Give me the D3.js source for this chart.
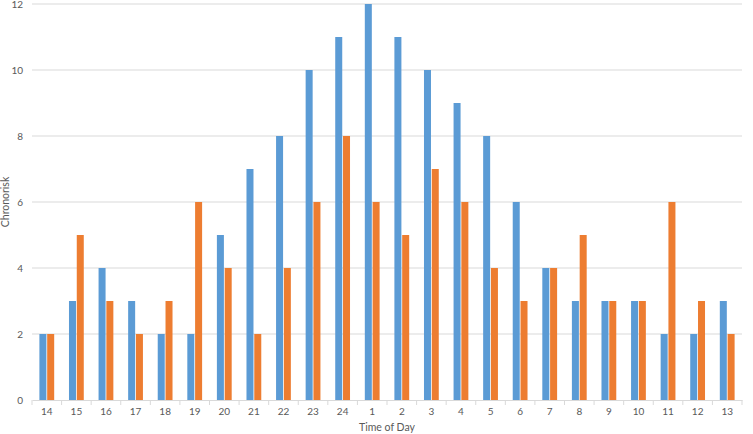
<!DOCTYPE html>
<html>
<head>
<meta charset="utf-8">
<script src="https://cdn.jsdelivr.net/npm/d3@7"></script>
<style>
  body { margin: 0; background: #fff; }
  text { font-family: Lato, 'Open Sans', sans-serif; fill: #595959; }
</style>
</head>
<body>
<svg id="chart"></svg>
<script>
const hours = ['14', '15', '16', '17', '18', '19', '20', '21', '22', '23', '24',
  '1', '2', '3', '4', '5', '6', '7', '8', '9', '10', '11', '12', '13'];
const seriesA = [2, 3, 4, 3, 2, 2, 5, 7, 8, 10, 11, 12, 11, 10, 9, 8, 6, 4, 3, 3, 3, 2, 2, 3];
const seriesB = [2, 5, 3, 2, 3, 6, 4, 2, 4, 6, 8, 6, 5, 7, 6, 4, 3, 4, 5, 3, 3, 6, 3, 2];
const yTicks = [0, 2, 4, 6, 8, 10, 12];
const colors = ['#5b9bd5', '#ed7d31'];

const width = 753;
const height = 434;
const margin = { top: 4, right: 11, bottom: 34, left: 32 };
const graphW = width - margin.left - margin.right;
const graphH = height - margin.top - margin.bottom;

const svg = d3.select('#chart').attr('width', width).attr('height', height);
const g = svg.append('g').attr('transform', `translate(${margin.left},${margin.top})`);

const x = d3.scaleBand().domain(hours).range([0, graphW]);
const inner = d3.scaleBand().domain([0, 1]).range([x.bandwidth() * 0.25, x.bandwidth() * 0.75]).paddingInner(0.1);
const y = d3.scaleLinear().domain([0, 12]).range([graphH, 0]);

// gridlines
g.append('g')
  .selectAll('line')
  .data(yTicks.slice(1))
  .enter()
  .append('line')
  .attr('x1', 0)
  .attr('x2', graphW)
  .attr('y1', d => y(d))
  .attr('y2', d => y(d))
  .attr('stroke', '#d9d9d9')
  .attr('stroke-width', 1);

// y tick labels
g.append('g')
  .selectAll('text')
  .data(yTicks)
  .enter()
  .append('text')
  .attr('x', -9)
  .attr('y', d => y(d))
  .attr('dy', '0.35em')
  .attr('text-anchor', 'end')
  .style('font-size', '10px')
  .text(d => d);

// bars
const data = hours.map((h, i) => ({ h, vals: [seriesA[i], seriesB[i]] }));
const groups = g.append('g')
  .selectAll('g')
  .data(data)
  .enter()
  .append('g')
  .attr('transform', d => `translate(${x(d.h)},0)`);

groups.selectAll('rect')
  .data(d => d.vals.map((v, k) => ({ v, k })))
  .enter()
  .append('rect')
  .attr('x', d => inner(d.k))
  .attr('width', inner.bandwidth())
  .attr('y', d => y(d.v))
  .attr('height', d => graphH - y(d.v))
  .attr('fill', d => colors[d.k]);

// x axis
const xAxis = g.append('g')
  .attr('transform', `translate(0,${graphH})`)
  .call(d3.axisBottom(x).tickSize(0).tickPadding(8));
xAxis.select('.domain').attr('stroke', '#d9d9d9');
xAxis.selectAll('text').style('font-size', '10px').attr('fill', '#595959');

// category boundary ticks
xAxis.append('g')
  .selectAll('line')
  .data(d3.range(hours.length + 1))
  .enter()
  .append('line')
  .attr('x1', i => i * x.step())
  .attr('x2', i => i * x.step())
  .attr('y1', 0)
  .attr('y2', 5)
  .attr('stroke', '#d9d9d9');

// axis titles
svg.append('text')
  .attr('x', margin.left + graphW / 2)
  .attr('y', height - 3)
  .attr('text-anchor', 'middle')
  .style('font-size', '10.5px')
  .text('Time of Day');

svg.append('text')
  .attr('transform', `translate(9,${margin.top + graphH / 2}) rotate(-90)`)
  .attr('text-anchor', 'middle')
  .style('font-size', '10.5px')
  .text('Chronorisk');
</script>
</body>
</html>
